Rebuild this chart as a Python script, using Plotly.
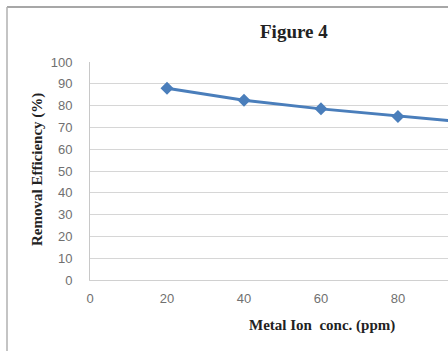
import plotly.graph_objects as go

# Removal efficiency vs. metal ion concentration
conc_ppm = [20, 40, 60, 80, 100]
removal_pct = [88, 82.5, 78.5, 75, 72]

W, H = 448, 351
L, T, B, R = 90, 62, 71, 0
plot_w = W - L - R
plot_h = H - T - B

def px_x(px):
    return (px - L) / plot_w

def px_y(py):
    return (H - B - py) / plot_h

fig = go.Figure()
fig.add_trace(go.Scatter(
    x=conc_ppm, y=removal_pct, mode="lines+markers",
    line=dict(color="#4a7ebb", width=3),
    marker=dict(symbol="diamond", size=10, color="#4a7ebb"),
    cliponaxis=True,
))

serif = "Liberation Serif, Times New Roman, serif"
sans = "Liberation Sans, Arial, sans-serif"

fig.update_layout(
    width=W, height=H,
    margin=dict(l=L, r=R, t=T, b=B),
    paper_bgcolor="white", plot_bgcolor="white",
    showlegend=False,
    xaxis=dict(
        range=[0, 93], tickvals=[0, 20, 40, 60, 80],
        showgrid=False, zeroline=False,
        showline=True, linecolor="#d0d0d0", linewidth=1,
        ticks="", tickfont=dict(family=sans, size=13, color="#707070"),
        ticklabelstandoff=6,
    ),
    yaxis=dict(
        range=[0, 100], dtick=10,
        showgrid=True, gridcolor="#d6d6d6", gridwidth=1,
        zeroline=False,
        showline=True, linecolor="#c8c8c8", linewidth=1,
        ticks="", tickfont=dict(family=sans, size=13, color="#707070"),
        ticklabelstandoff=14,
    ),
    annotations=[
        dict(text="<b>Figure 4</b>", x=px_x(294), y=px_y(31), xref="paper", yref="paper",
             showarrow=False, font=dict(family=serif, size=19, color="#222222"),
             xanchor="center", yanchor="middle"),
        dict(text="<b>Metal Ion  conc. (ppm)</b>", x=px_x(322), y=px_y(325), xref="paper", yref="paper",
             showarrow=False, font=dict(family=serif, size=15, color="#222222"),
             xanchor="center", yanchor="middle"),
        dict(text="<b>Removal Efficiency (%)</b>", x=px_x(37), y=px_y(169), xref="paper", yref="paper",
             showarrow=False, textangle=-90, font=dict(family=serif, size=15, color="#222222"),
             xanchor="center", yanchor="middle"),
    ],
    shapes=[
        # chart frame edges
        dict(type="line", xref="paper", yref="paper", x0=px_x(7), x1=px_x(W + 5),
             y0=px_y(7), y1=px_y(7), line=dict(color="#8a8a8a", width=1.5)),
        dict(type="line", xref="paper", yref="paper", x0=px_x(7), x1=px_x(7),
             y0=px_y(7), y1=px_y(H + 5), line=dict(color="#b0b0b0", width=1.5)),
    ],
)

fig.write_html("out.html")
